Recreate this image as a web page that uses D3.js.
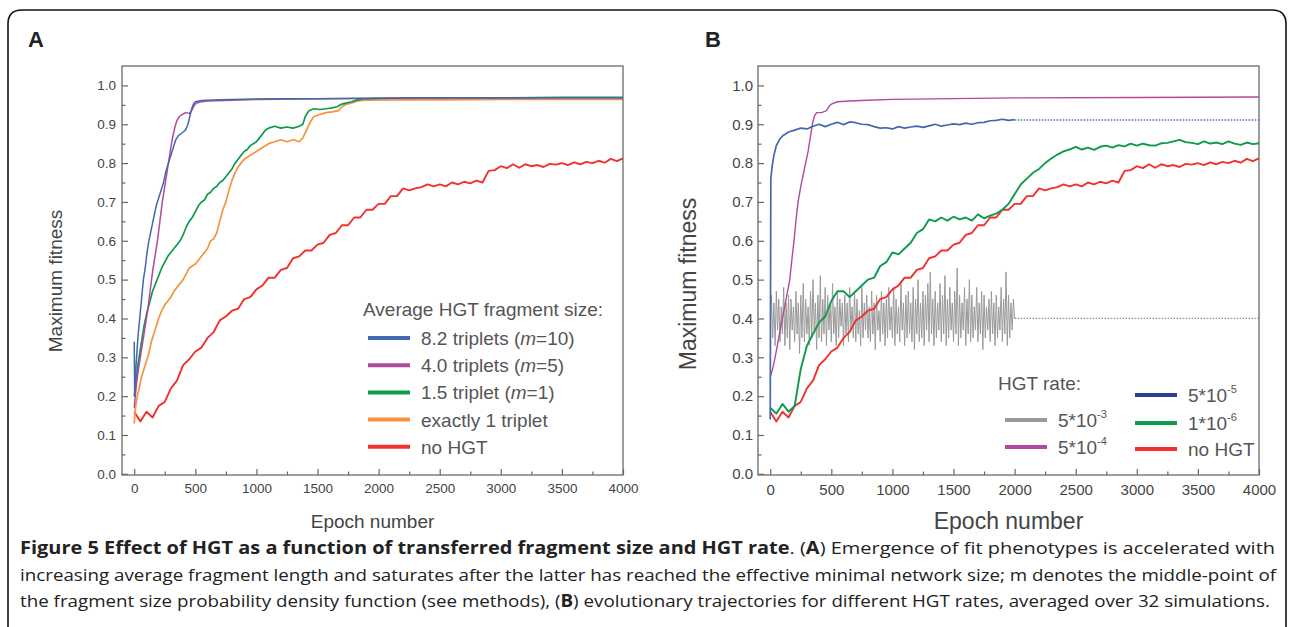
<!DOCTYPE html>
<html><head><meta charset="utf-8">
<script src="https://cdn.jsdelivr.net/npm/d3@7"></script>
<style>body{margin:0;background:#fff;} svg{display:block;}</style>
</head><body>
<svg id="c" width="1292" height="627"></svg>
<script>
// ---------------- DATA ----------------
const xTicks = [0, 500, 1000, 1500, 2000, 2500, 3000, 3500, 4000];
const xMinorTicks = [250, 750, 1250, 1750, 2250, 2750, 3250, 3750];
const yTicks = [0.0, 0.1, 0.2, 0.3, 0.4, 0.5, 0.6, 0.7, 0.8, 0.9, 1.0];
const yMinorTicks = [0.05, 0.15, 0.25, 0.35, 0.45, 0.55, 0.65, 0.75, 0.85, 0.95];

// Panel A series ([epoch, max fitness])
const aBlue = [[0,0.34],[4,0.2],[15,0.28],[30,0.35],[45,0.4],[60,0.45],[75,0.5],[90,0.53],[105,0.57],[120,0.6],[140,0.63],[160,0.66],[180,0.69],[200,0.71],[220,0.73],[240,0.75],[260,0.78],[280,0.8],[300,0.82],[320,0.84],[340,0.86],[360,0.87],[380,0.875],[400,0.88],[420,0.885],[440,0.9],[455,0.92],[470,0.94],[485,0.952],[500,0.958],[550,0.961],[600,0.962],[700,0.963],[800,0.964],[1000,0.965],[1200,0.966],[1500,0.966],[2000,0.967],[2500,0.968],[3000,0.968],[3500,0.968],[4000,0.968]];
const aPurple = [[0,0.17],[15,0.22],[30,0.26],[50,0.3],[70,0.34],[90,0.38],[110,0.42],[130,0.47],[150,0.52],[170,0.56],[190,0.6],[210,0.65],[230,0.7],[250,0.74],[270,0.78],[290,0.82],[305,0.85],[320,0.875],[335,0.895],[350,0.91],[370,0.92],[390,0.925],[420,0.93],[450,0.928],[470,0.935],[490,0.948],[510,0.955],[550,0.958],[600,0.96],[800,0.962],[1000,0.964],[1500,0.966],[2000,0.967],[3000,0.968],[4000,0.968]];
const aGreen = [[0,0.2],[15,0.24],[30,0.28],[45,0.31],[60,0.34],[80,0.38],[100,0.41],[125,0.44],[150,0.47],[175,0.49],[200,0.51],[225,0.53],[250,0.545],[275,0.56],[300,0.57],[325,0.58],[350,0.59],[375,0.6],[400,0.615],[425,0.635],[450,0.65],[475,0.66],[500,0.675],[525,0.69],[550,0.7],[575,0.705],[600,0.72],[625,0.725],[650,0.735],[675,0.74],[700,0.75],[725,0.755],[750,0.765],[775,0.775],[800,0.785],[825,0.8],[850,0.81],[875,0.82],[900,0.83],[925,0.835],[950,0.845],[975,0.85],[1000,0.855],[1025,0.865],[1050,0.875],[1075,0.885],[1100,0.89],[1150,0.895],[1200,0.89],[1250,0.893],[1300,0.89],[1350,0.895],[1380,0.9],[1400,0.92],[1430,0.935],[1470,0.94],[1520,0.938],[1570,0.94],[1620,0.942],[1660,0.945],[1700,0.952],[1740,0.955],[1780,0.958],[1820,0.962],[1870,0.965],[1950,0.966],[2100,0.967],[2500,0.968],[3000,0.968],[3500,0.969],[4000,0.969]];
const aOrange = [[0,0.13],[10,0.17],[25,0.2],[40,0.22],[60,0.25],[80,0.27],[100,0.29],[120,0.31],[140,0.34],[160,0.36],[180,0.38],[200,0.4],[225,0.42],[250,0.435],[275,0.445],[300,0.455],[325,0.47],[350,0.48],[375,0.49],[400,0.5],[425,0.515],[450,0.53],[475,0.535],[500,0.54],[525,0.55],[550,0.56],[575,0.57],[600,0.58],[625,0.6],[650,0.605],[675,0.62],[700,0.65],[725,0.68],[750,0.7],[775,0.73],[800,0.755],[825,0.775],[850,0.79],[875,0.8],[900,0.81],[950,0.82],[1000,0.83],[1050,0.84],[1100,0.85],[1150,0.855],[1200,0.86],[1250,0.855],[1300,0.86],[1350,0.855],[1380,0.865],[1410,0.885],[1440,0.905],[1470,0.92],[1520,0.925],[1570,0.93],[1620,0.932],[1670,0.935],[1700,0.945],[1740,0.952],[1780,0.955],[1830,0.96],[1900,0.962],[2100,0.963],[2500,0.963],[3000,0.964],[3500,0.964],[4000,0.964]];

// "no HGT" (same run in both panels), sampled every 50 epochs
const noHgtStep = 50;
const noHgtVals = [0.16,0.135,0.16,0.145,0.175,0.185,0.22,0.24,0.28,0.295,
0.315,0.325,0.35,0.365,0.395,0.405,0.42,0.425,0.45,0.455,
0.475,0.485,0.505,0.505,0.525,0.53,0.555,0.56,0.575,0.575,
0.59,0.595,0.615,0.62,0.64,0.64,0.66,0.66,0.68,0.68,
0.695,0.695,0.715,0.715,0.735,0.73,0.735,0.738,0.745,0.74,
0.745,0.74,0.75,0.745,0.752,0.748,0.755,0.75,0.78,0.782,
0.792,0.787,0.797,0.788,0.797,0.792,0.795,0.79,0.798,0.796,
0.8,0.795,0.802,0.797,0.803,0.8,0.806,0.801,0.811,0.805,
0.812];

// Panel B series
const bBlue = [[0,0.14],[5,0.76],[15,0.79],[30,0.82],[50,0.845],[75,0.86],[100,0.87],[150,0.88],[200,0.885],[250,0.89],[300,0.888],[350,0.895],[400,0.9],[450,0.894],[500,0.9],[550,0.905],[600,0.899],[650,0.906],[700,0.904],[750,0.9],[800,0.899],[850,0.894],[900,0.89],[950,0.891],[1000,0.888],[1050,0.894],[1100,0.89],[1150,0.893],[1200,0.895],[1250,0.892],[1300,0.896],[1350,0.9],[1400,0.895],[1450,0.898],[1500,0.901],[1550,0.899],[1600,0.903],[1650,0.9],[1700,0.904],[1750,0.905],[1800,0.909],[1850,0.91],[1900,0.913],[1950,0.91],[2000,0.912]];
const bBlueDotted = [[2000,0.911],[4000,0.911]];
const bPurple = [[0,0.25],[20,0.27],[40,0.3],[70,0.35],[100,0.4],[130,0.45],[160,0.5],[180,0.56],[195,0.6],[210,0.65],[228,0.7],[250,0.74],[270,0.77],[290,0.8],[310,0.83],[330,0.87],[345,0.9],[360,0.92],[380,0.93],[420,0.93],[460,0.935],[480,0.945],[500,0.952],[550,0.958],[650,0.96],[800,0.962],[1000,0.964],[1500,0.966],[2000,0.968],[3000,0.969],[4000,0.97]];
const bGreenStep = 50;
const bGreenVals = [0.17,0.155,0.18,0.16,0.175,0.27,0.33,0.36,0.39,0.405,
0.445,0.47,0.47,0.455,0.47,0.485,0.5,0.505,0.535,0.545,
0.57,0.565,0.58,0.595,0.62,0.63,0.655,0.65,0.66,0.652,
0.662,0.655,0.66,0.652,0.668,0.658,0.665,0.67,0.68,0.695,
0.72,0.745,0.76,0.775,0.785,0.8,0.812,0.822,0.83,0.835,
0.842,0.835,0.84,0.834,0.842,0.845,0.84,0.846,0.843,0.85,
0.845,0.85,0.846,0.845,0.851,0.852,0.856,0.86,0.854,0.852,
0.849,0.856,0.85,0.853,0.849,0.856,0.85,0.847,0.853,0.849,
0.851];
const bGrayStep = 10;
const bGrayVals = [0.40,0.46,0.35,0.44,0.33,0.47,0.37,0.45,0.34,0.43,
0.36,0.48,0.33,0.44,0.35,0.46,0.32,0.45,0.37,0.43,
0.34,0.47,0.36,0.44,0.31,0.46,0.35,0.49,0.34,0.45,
0.36,0.43,0.33,0.47,0.35,0.50,0.37,0.44,0.32,0.46,
0.35,0.51,0.34,0.45,0.36,0.48,0.33,0.46,0.37,0.44,
0.34,0.49,0.36,0.43,0.33,0.47,0.35,0.45,0.38,0.44,
0.33,0.46,0.36,0.44,0.34,0.48,0.37,0.43,0.35,0.47,
0.34,0.45,0.36,0.42,0.33,0.48,0.35,0.44,0.37,0.46,
0.35,0.43,0.34,0.47,0.36,0.44,0.32,0.46,0.37,0.42,
0.34,0.47,0.36,0.44,0.33,0.45,0.35,0.48,0.37,0.43,
0.35,0.48,0.33,0.45,0.36,0.43,0.34,0.49,0.37,0.44,
0.33,0.46,0.35,0.47,0.36,0.44,0.34,0.48,0.32,0.45,
0.36,0.50,0.34,0.44,0.35,0.47,0.33,0.46,0.37,0.49,
0.34,0.52,0.36,0.45,0.33,0.47,0.35,0.44,0.37,0.49,
0.34,0.46,0.36,0.51,0.33,0.45,0.35,0.48,0.37,0.44,
0.34,0.47,0.36,0.53,0.33,0.46,0.35,0.44,0.37,0.48,
0.33,0.45,0.36,0.50,0.34,0.46,0.35,0.43,0.37,0.48,
0.34,0.44,0.36,0.47,0.32,0.46,0.35,0.43,0.37,0.45,
0.34,0.47,0.36,0.44,0.33,0.46,0.35,0.43,0.37,0.48,
0.34,0.45,0.36,0.52,0.33,0.46,0.35,0.44,0.37,0.45,
0.40];
const bGrayDotted = [[2000,0.4],[4000,0.4]];

const legendATitle = "Average HGT fragment size:";
const legendALabels = ["8.2 triplets (m=10)", "4.0 triplets (m=5)", "1.5 triplet (m=1)", "exactly 1 triplet", "no HGT"];
const legendBTitle = "HGT rate:";
const legendBBase = ["5*10", "5*10", "5*10", "1*10", "no HGT"];
const legendBExp = ["-3", "-4", "-5", "-6", ""];

// ---------------- STYLE ----------------
const F = "'Liberation Sans', Arial, sans-serif";
const C = {blue:"#4268b0", purple:"#b24a9c", green:"#0d9a4a", orange:"#f7923c", red:"#f2302c", gray:"#9a9a9a", navy:"#2e3d8f"};
const xDomain = [-100, 4000];
const yDomain = [-0.003, 1.05];
const TOP = 66, BOT = 475;

const svg = d3.select("#c");
svg.append("rect").attr("width",1292).attr("height",627).attr("fill","#fff");
svg.append("path").attr("d","M8,627 L8,24 Q8,10 22,10 L1272,10 Q1286,10 1286,24 L1286,627")
  .attr("fill","none").attr("stroke","#111").attr("stroke-width",1.6);

const stepSeries = (step, vals) => vals.map((v,i)=>[i*step, v]);

function panel(o){
  const x = d3.scaleLinear().domain(xDomain).range([o.left, o.right]);
  const y = d3.scaleLinear().domain(yDomain).range([BOT, TOP]);
  const g = svg.append("g");
  const line = d3.line().x(d=>x(d[0])).y(d=>y(d[1]));
  o.series.forEach(s=>{
    g.append("path").datum(s.data).attr("d",line).attr("fill","none")
      .attr("stroke",s.color).attr("stroke-width",s.w||1.5)
      .attr("stroke-dasharray",s.dash||null).attr("stroke-linejoin","round");
  });
  g.append("rect").attr("x",o.left).attr("y",TOP).attr("width",o.right-o.left).attr("height",BOT-TOP)
    .attr("fill","none").attr("stroke","#6a6a6a").attr("stroke-width",1.3);
  const style = (ax)=>{ ax.select(".domain").remove(); ax.attr("font-family",F).attr("font-size",o.tickFs);
    ax.selectAll("line").attr("stroke","#666").attr("stroke-width",1.2); ax.selectAll("text").attr("fill","#444"); };
  style(g.append("g").attr("transform",`translate(0,${BOT})`)
    .call(d3.axisBottom(x).tickValues(xTicks).tickSizeInner(-6).tickSizeOuter(0).tickPadding(o.xPad).tickFormat(d=>d)));
  style(g.append("g").attr("transform",`translate(0,${BOT})`)
    .call(d3.axisBottom(x).tickValues(xMinorTicks).tickSizeInner(-3.5).tickSizeOuter(0).tickFormat("")));
  style(g.append("g").attr("transform",`translate(${o.left},0)`)
    .call(d3.axisLeft(y).tickValues(yTicks).tickSizeInner(-6).tickSizeOuter(0).tickPadding(o.yPad).tickFormat(d3.format(".1f"))));
  style(g.append("g").attr("transform",`translate(${o.left},0)`)
    .call(d3.axisLeft(y).tickValues(yMinorTicks).tickSizeInner(-3.5).tickSizeOuter(0).tickFormat("")));
  g.append("text").attr("x",(o.left+o.right)/2).attr("y",o.xTitleY).attr("text-anchor","middle")
    .attr("font-family",F).attr("font-size",o.titleFs).attr("fill","#444").text("Epoch number");
  g.append("text").attr("transform",`translate(${o.yTitleX},${o.yTitleCY}) rotate(-90)`).attr("text-anchor","middle")
    .attr("font-family",F).attr("font-size",o.titleFs).attr("fill","#444").text("Maximum fitness");
  g.append("text").attr("x",o.letterX).attr("y",47).attr("font-family",F).attr("font-weight","bold")
    .attr("font-size",22).attr("fill","#222").text(o.letter);
  return {x,y,g};
}

// Panel A
const A = panel({left:122, right:623, tickFs:13.5, xPad:8.5, yPad:6, titleFs:19, xTitleY:528, yTitleX:62, yTitleCY:281,
  letter:"A", letterX:28,
  series:[
    {data:stepSeries(noHgtStep,noHgtVals), color:C.red, w:1.9},
    {data:aOrange, color:C.orange, w:1.7},
    {data:aGreen, color:C.green, w:1.7},
    {data:aPurple, color:C.purple, w:1.5},
    {data:aBlue, color:C.blue, w:1.5}
  ]});
{
  const g = A.g;
  g.append("text").attr("x",363).attr("y",316).attr("font-family",F).attr("font-size",19).attr("fill","#555").text(legendATitle);
  const cols = [C.blue, C.purple, C.green, C.orange, C.red];
  legendALabels.forEach((lab,i)=>{
    const yy = 338 + i*27.2;
    g.append("line").attr("x1",368).attr("x2",410).attr("y1",yy).attr("y2",yy).attr("stroke",cols[i]).attr("stroke-width",4);
    const t = g.append("text").attr("x",421).attr("y",yy+7).attr("font-family",F).attr("font-size",19).attr("fill","#555");
    lab.split(/(m)(?==)/).forEach(part=>{
      if(part==="") return;
      t.append("tspan").attr("font-style", part==="m" ? "italic" : null).text(part);
    });
  });
}

// Panel B
const B = panel({left:758, right:1259, tickFs:15, xPad:9.5, yPad:5, titleFs:23, xTitleY:529, yTitleX:696, yTitleCY:284,
  letter:"B", letterX:705,
  series:[
    {data:stepSeries(bGrayStep,bGrayVals), color:C.gray, w:1},
    {data:bGrayDotted, color:"#8a8a8a", w:1.2, dash:"1.5,1.5"},
    {data:stepSeries(noHgtStep,noHgtVals), color:C.red, w:1.9},
    {data:stepSeries(bGreenStep,bGreenVals), color:C.green, w:1.9},
    {data:bPurple, color:C.purple, w:1.4},
    {data:bBlue, color:C.blue, w:1.7},
    {data:bBlueDotted, color:"#5a6fb5", w:1.5, dash:"1.5,1.5"}
  ]});
{
  const g = B.g;
  g.append("text").attr("x",998).attr("y",390).attr("font-family",F).attr("font-size",19).attr("fill","#555").text(legendBTitle);
  const cols = [C.gray, C.purple, C.navy, C.green, C.red];
  const pos = [[1005,420],[1005,447],[1135,395],[1135,423],[1135,449]];
  legendBBase.forEach((lab,i)=>{
    const [lx,ly] = pos[i];
    g.append("line").attr("x1",lx).attr("x2",lx+42).attr("y1",ly).attr("y2",ly).attr("stroke",cols[i]).attr("stroke-width",4);
    const t = g.append("text").attr("x",lx+53).attr("y",ly+7).attr("font-family",F).attr("font-size",19).attr("fill","#555");
    t.append("tspan").text(lab);
    if(legendBExp[i]) t.append("tspan").attr("dy",-9).attr("font-size",11).text(legendBExp[i]);
  });
}

// Caption
{
  const CF = "'Open Sans', 'Noto Sans', sans-serif";
  const lines = [
    {y:554, len:1255, parts:[["Figure 5 Effect of HGT as a function of transferred fragment size and HGT rate",1],[". (",0],["A",1],[") Emergence of fit phenotypes is accelerated with",0]]},
    {y:581, len:1256, parts:[["increasing average fragment length and saturates after the latter has reached the effective minimal network size; m denotes the middle-point of",0]]},
    {y:607, len:1250, parts:[["the fragment size probability density function (see methods), (",0],["B",1],[") evolutionary trajectories for different HGT rates, averaged over 32 simulations.",0]]}
  ];
  lines.forEach(l=>{
    const t = svg.append("text").attr("x",20).attr("y",l.y).attr("font-family",CF).attr("font-size",17)
      .attr("fill","#222").attr("textLength",l.len).attr("lengthAdjust","spacingAndGlyphs");
    l.parts.forEach(p=> t.append("tspan").attr("font-weight",p[1]?"bold":null).text(p[0]));
  });
}
</script>
</body></html>
